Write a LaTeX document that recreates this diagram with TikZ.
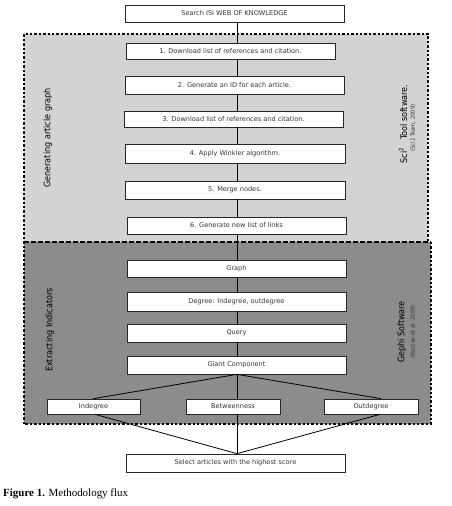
\documentclass[tikz,border=0pt]{standalone}
\usepackage{fontspec}
\setmainfont{DejaVu Sans}
\newfontfamily\condfont{DejaVu Sans Condensed}
\newfontfamily\capfont{Liberation Serif}
\definecolor{lightreg}{RGB}{211,211,211}
\definecolor{darkreg}{RGB}{140,140,140}
\begin{document}
\begin{tikzpicture}[x=1bp,y=-1bp,
  stepbox/.style={draw=black!85,fill=white,line width=0.7bp,inner sep=0pt,
    font=\fontsize{6.6}{7}\selectfont,text=black!80},
  conn/.style={line width=0.8bp,black},
  sidelabel/.style={rotate=90,font=\condfont\fontsize{9}{10}\selectfont,text=black,inner sep=0pt},
  smalllabel/.style={rotate=90,font=\condfont\fontsize{5.8}{6}\selectfont,text=black!80,inner sep=0pt},
  dotborder/.style={line width=2.6bp,dash pattern=on 2.4bp off 2bp,black},
  midborder/.style={line width=1.8bp,dash pattern=on 5bp off 2bp,black}]
\useasboundingbox (0,0) rectangle (452,506);
% regions
\fill[lightreg] (24,34) rectangle (428,242);
\fill[darkreg] (24,242) rectangle (431,424);
\draw[dotborder] (24,424) -- (24,34) -- (428,34) -- (428,242);
\draw[dotborder] (431,242) -- (431,424) -- (24,424);
\draw[midborder] (24,242) -- (431,242);
\coordinate (spine) at (237,0);
% boxes
\node[stepbox,minimum width=219bp,minimum height=17bp] (top) at (234.5,13.5) {Search ISI WEB OF KNOWLEDGE};
\node[stepbox,minimum width=209bp,minimum height=16bp] (b1) at (230.4,51) {1. Download list of references and citation.};
\node[stepbox,minimum width=219bp,minimum height=18bp] (b2) at (234.5,85) {2. Generate an ID for each article.};
\node[stepbox,minimum width=219bp,minimum height=16bp] (b3) at (233.5,119) {3. Download list of references and citation.};
\node[stepbox,minimum width=220bp,minimum height=19bp] (b4) at (235,153.5) {4. Apply Winkler algorithm.};
\node[stepbox,minimum width=220bp,minimum height=18bp] (b5) at (235,190) {5. Merge nodes.};
\node[stepbox,minimum width=219bp,minimum height=17bp] (b6) at (236.5,225.5) {6. Generate new list of links};
\node[stepbox,minimum width=219bp,minimum height=17bp] (graph) at (236.5,268.5) {Graph};
\node[stepbox,minimum width=219bp,minimum height=19bp] (degree) at (236.5,301.5) {Degree: Indegree, outdegree};
\node[stepbox,minimum width=219bp,minimum height=18bp] (query) at (236.5,333) {Query};
\node[stepbox,minimum width=219bp,minimum height=18bp] (giant) at (236.5,365) {Giant Component};
\node[stepbox,minimum width=93bp,minimum height=15bp] (indeg) at (93.5,406.5) {Indegree};
\node[stepbox,minimum width=94bp,minimum height=15bp] (betw) at (233,406.5) {Betweenness};
\node[stepbox,minimum width=94bp,minimum height=15bp] (outdeg) at (371,406.5) {Outdegree};
\node[stepbox,minimum width=219bp,minimum height=18bp] (select) at (235.5,463) {Select articles with the highest score};
% connectors
\foreach \a/\b in {top/b1,b1/b2,b2/b3,b3/b4,b4/b5,b5/b6,b6/graph,graph/degree,degree/query,query/giant,giant/betw,betw/select}
  \draw[conn] (\a.south -| spine) -- (\b.north -| spine);
\draw[conn] (giant.south -| spine) -- (indeg.north);
\draw[conn] (giant.south -| spine) -- ([xshift=10bp]outdeg.north);
\draw[conn] ([xshift=1.5bp]indeg.south) -- (select.north -| spine);
\draw[conn] ([xshift=9bp]outdeg.south) -- (select.north -| spine);
% labels
\node[sidelabel] (lab1) at (48,138) {Generating article graph};
\node[sidelabel] (lab2) at (50,330) {Extracting Indicators};
\node[sidelabel] (lab3) at (403,124) {Sci\textsuperscript{2}\ \ \ Tool software.};
\node[smalllabel] (lab4) at (413,128) {(Sci2 Team, 2009)};
\node[sidelabel] (lab5) at (402,332) {Gephi Software};
\node[smalllabel] (lab6) at (413,332) {(Bastian et al. 2009)};
\node[anchor=west,inner sep=0pt,font=\capfont\fontsize{11}{13}\selectfont] (caption) at (3,494) {\textbf{Figure 1.} Methodology flux};
\end{tikzpicture}
\end{document}
